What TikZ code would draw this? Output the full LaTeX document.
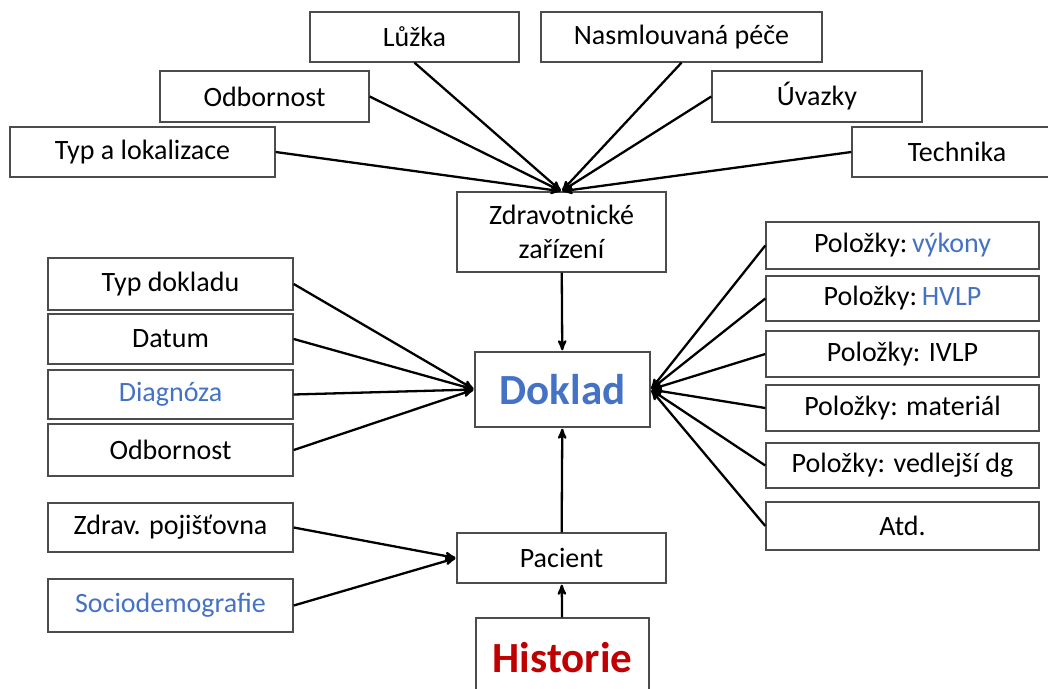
\documentclass[tikz,border=0pt]{standalone}
\usepackage{fontspec}
\setmainfont{Carlito}
\usetikzlibrary{arrows}

\definecolor{modra}{HTML}{4472C4}
\definecolor{cervena}{HTML}{C00000}

\begin{document}
\begin{tikzpicture}[->,>=stealth',shorten >=1pt,x=1pt,y=-1pt,
                    line width=2.3pt,
                    box/.style={draw=black!70,line width=1.4pt,fill=white,
                                inner sep=0pt,align=center,
                                font=\fontsize{28}{34}\selectfont}]

  \clip (0,0) rectangle (1048,688);
  \useasboundingbox (0,0) rectangle (1048,688);

  % horni rada
  \node[box,minimum width=209pt,minimum height=50pt] (luz)  at (414.5,37)  {Lůžka};
  \node[box,minimum width=281pt,minimum height=50pt] (nas)  at (681.5,37)  {Nasmlouvaná péče};
  \node[box,minimum width=209pt,minimum height=51pt] (odb1) at (264.5,96.5) {Odbornost};
  \node[box,minimum width=210pt,minimum height=51pt] (uva)  at (817,96.5)  {Úvazky};
  \node[box,minimum width=265pt,minimum height=50pt] (typ)  at (142.5,152) {Typ a lokalizace};
  \node[box,minimum width=210pt,minimum height=50pt] (tec)  at (957,152)   {Technika};

  % stred
  \node[box,minimum width=209pt,minimum height=80pt] (zz)  at (561.5,232) {Zdravotnické\\zařízení};
  \node[box,minimum width=175pt,minimum height=75pt,
        font=\fontsize{43}{50}\selectfont\bfseries,text=modra] (dok) at (562.5,389.5) {Doklad};
  \node[box,minimum width=209pt,minimum height=50pt] (pac) at (561.5,558) {Pacient};
  \node[box,minimum width=173pt,minimum height=80pt,
        font=\fontsize{43}{50}\selectfont\bfseries,text=cervena] (his) at (562.5,658) {Historie};

  % levy sloupec
  \node[box,minimum width=245pt,minimum height=52pt] (tdo) at (170.5,284) {Typ dokladu};
  \node[box,minimum width=245pt,minimum height=50pt] (dat) at (170.5,339) {Datum};
  \node[box,minimum width=245pt,minimum height=49pt,text=modra] (dia) at (170.5,394.5) {Diagnóza};
  \node[box,minimum width=245pt,minimum height=52pt] (odb2) at (170.5,450) {Odbornost};
  \node[box,minimum width=245pt,minimum height=49pt] (poj) at (170.5,527.5) {Zdrav. pojišťovna};
  \node[box,minimum width=245pt,minimum height=53pt,text=modra] (soc) at (170.5,605.5) {Sociodemografie};

  % pravy sloupec
  \node[box,minimum width=273pt,minimum height=47pt] (p1) at (902.5,245.5) {Položky:\,\textcolor{modra}{výkony}};
  \node[box,minimum width=273pt,minimum height=45pt] (p2) at (902.5,298.5) {Položky:\,\textcolor{modra}{HVLP}};
  \node[box,minimum width=273pt,minimum height=46pt] (p3) at (902.5,354)   {Položky: IVLP};
  \node[box,minimum width=273pt,minimum height=46pt] (p4) at (902.5,408)   {Položky: materiál};
  \node[box,minimum width=273pt,minimum height=45pt] (p5) at (902.5,465.5) {Položky: vedlejší dg};
  \node[box,minimum width=273pt,minimum height=48pt] (p6) at (902.5,526)   {Atd.};

  \path (typ.east)  edge (zz.north)
        (odb1.east) edge (zz.north)
        (luz.south) edge (zz.north)
        (nas.south) edge (zz.north)
        (uva.west)  edge (zz.north)
        (tec.west)  edge (zz.north)
        (zz)        edge (dok)
        (pac)       edge (dok)
        (his)       edge (pac)
        (poj.east)  edge (pac.west)
        (soc.east)  edge (pac.west);

  \path (tdo.east)  edge (dok.west)
        (dat.east)  edge (dok.west)
        (dia.east)  edge (dok.west)
        (odb2.east) edge (dok.west)
        (p1.west)   edge (dok.east)
        (p2.west)   edge (dok.east)
        (p3.west)   edge (dok.east)
        (p4.west)   edge (dok.east)
        (p5.west)   edge (dok.east)
        (p6.west)   edge (dok.east);
\end{tikzpicture}
\end{document}
